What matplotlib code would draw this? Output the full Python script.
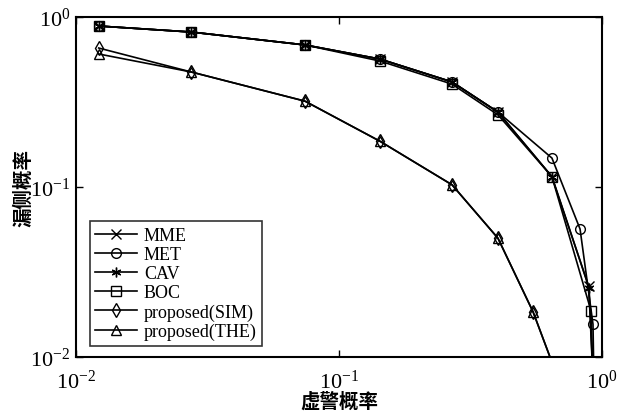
import numpy as np
import matplotlib
matplotlib.use("Agg")
import matplotlib.pyplot as plt

plt.rcParams['font.family'] = ['Liberation Serif', 'DejaVu Serif']
plt.rcParams['mathtext.fontset'] = 'stix'

# 虚警概率 (false alarm) / 漏检概率 (miss) for each detector
pf_top = [0.0122, 0.0274, 0.0742, 0.143, 0.269, 0.402, 0.645]

mme_pf = pf_top + [0.89, 0.935]
mme_pm = [0.885, 0.816, 0.685, 0.566, 0.415, 0.276, 0.115, 0.026, 0.005]

met_pf = pf_top + [0.825, 0.924, 0.935]
met_pm = [0.885, 0.816, 0.685, 0.566, 0.415, 0.276, 0.148, 0.0566, 0.0156, 0.005]

cav_pf = pf_top + [0.893, 0.935]
cav_pm = [0.885, 0.816, 0.685, 0.566, 0.415, 0.276, 0.115, 0.0255, 0.005]

boc_pf = pf_top + [0.908, 0.93]
boc_pm = [0.885, 0.816, 0.685, 0.551, 0.403, 0.266, 0.115, 0.0187, 0.005]

sim_pf = [0.0122, 0.0274, 0.0742, 0.143, 0.269, 0.402, 0.547, 0.75]
sim_pm = [0.657, 0.475, 0.32, 0.186, 0.103, 0.050, 0.0184, 0.005]

the_pf = [0.0122, 0.0274, 0.0742, 0.143, 0.269, 0.402, 0.547, 0.75]
the_pm = [0.606, 0.475, 0.32, 0.186, 0.103, 0.050, 0.0184, 0.005]

labels = ['MME', 'MET', 'CAV', 'BOC', 'proposed(SIM)', 'proposed(THE)']

fig = plt.figure(figsize=(6.26, 4.14), dpi=100)
ax = fig.add_axes([0.1214, 0.1353, 0.8403, 0.8212])

kw = dict(color='black', lw=1.2, markersize=7, markerfacecolor='none',
          markeredgecolor='black', markeredgewidth=1.0)
ax.plot(mme_pf, mme_pm, marker='x', label=labels[0], **kw)
ax.plot(met_pf, met_pm, marker='o', label=labels[1], **kw)
ax.plot(cav_pf, cav_pm, marker=(6, 2, 0), label=labels[2], **kw)
ax.plot(boc_pf, boc_pm, marker='s', label=labels[3], **kw)
ax.plot(sim_pf, sim_pm, marker='d', label=labels[4], **kw)
ax.plot(the_pf, the_pm, marker='^', label=labels[5], **kw)

ax.set_xscale('log')
ax.set_yscale('log')
ax.set_xlim(1e-2, 1e0)
ax.set_ylim(1e-2, 1e0)
ax.minorticks_off()
ax.tick_params(which='major', direction='in', length=5, width=1.0,
               top=True, right=True, labelsize=16)
ax.tick_params(axis='x', pad=9)
ax.tick_params(axis='y', pad=4)
for s in ax.spines.values():
    s.set_linewidth(1.5)

cjk = ['Noto Sans CJK SC', 'DejaVu Sans']
ax.set_xlabel('虚警概率', family=cjk, fontsize=14, fontweight='bold', labelpad=-1)
ax.set_ylabel('漏侧概率', family=cjk, fontsize=14, fontweight='bold', labelpad=-2)

leg = ax.legend(loc='lower left', bbox_to_anchor=(0.026, 0.033), fontsize=13,
                frameon=True, fancybox=False, edgecolor='black',
                labelspacing=0.12, handlelength=2.3, handletextpad=0.4,
                borderpad=0.3, borderaxespad=0.0)
leg.get_frame().set_linewidth(1.2)

fig.savefig('out.png', dpi=100)
